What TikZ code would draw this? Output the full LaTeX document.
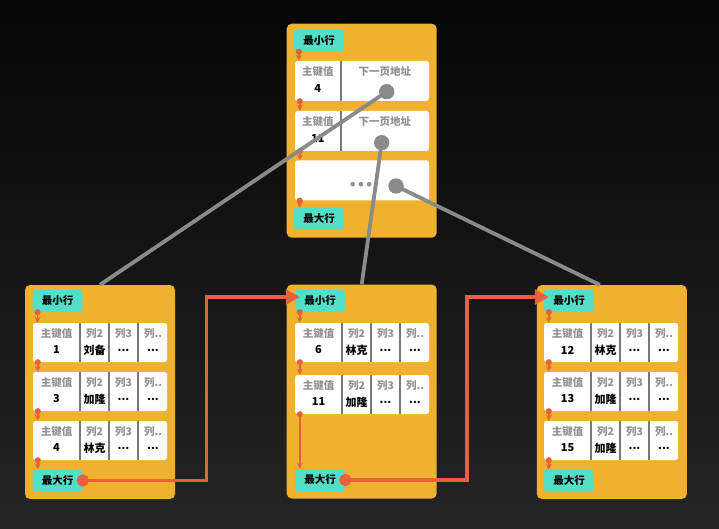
\documentclass[tikz,border=0pt]{standalone}
\usepackage{fontspec}
\setmainfont{Noto Sans CJK SC}
\newfontfamily\dotfont{DejaVu Sans}
\usetikzlibrary{arrows.meta,calc}
\definecolor{bgtop}{RGB}{6,6,6}
\definecolor{bgbot}{RGB}{36,36,36}
\definecolor{pageorange}{RGB}{240,178,46}
\definecolor{badgecol}{RGB}{82,223,198}
\definecolor{linkred}{RGB}{232,96,60}
\definecolor{linkgrey}{RGB}{138,138,138}
\definecolor{labgrey}{RGB}{145,145,145}
\definecolor{sepgrey}{RGB}{120,120,120}
\tikzset{
  page/.style={fill=pageorange, rounded corners=5pt, minimum width=150pt, minimum height=214pt, inner sep=0},
  badge/.style={fill=badgecol, rounded corners=3pt, minimum width=50pt, minimum height=22pt, inner sep=0, font=\bfseries\fontsize{10.5}{12}\selectfont},
  rowbox/.style={fill=white, rounded corners=2.5pt, minimum width=134pt, minimum height=39pt, inner sep=0},
  lab/.style={text=labgrey, inner sep=0, font=\bfseries\fontsize{10.5}{12}\selectfont},
  val/.style={inner sep=0, font=\bfseries\fontsize{11}{12}\selectfont},
  sep/.style={sepgrey, line width=1.5pt},
  rowlink/.style={linkred, line width=1.4pt, {Circle[length=6pt]}-{Stealth[length=6pt,width=6pt]}, shorten <=-3pt},
  pagelink/.style={linkred, line width=3.4pt, {Circle[length=12pt]}-{Triangle[length=14pt,width=15pt]}, shorten <=-6pt, shorten >=-5pt},
  treelink/.style={linkgrey, line width=3.8pt},
  ptr/.style={circle, fill=linkgrey, minimum size=15pt, inner sep=0}
}
\begin{document}
\begin{tikzpicture}[x=1pt,y=-1pt]
\shade [top color=bgtop, bottom color=bgbot] (0,0) rectangle (719,529);
\useasboundingbox (0,0) rectangle (719,529);
% pages
\node[page] (ptop) at (361.7,130.7) {};
\node[page] (pleft) at (100,392) {};
\node[page] (pmid) at (361.7,391.5) {};
\node[page] (pright) at (611.8,392) {};
% index page rows
\node[rowbox, minimum height=40pt] (t1) at (362,81) {};
\node[rowbox, minimum height=40pt] (t2) at (362,131) {};
\node[rowbox, minimum height=40pt] (t3) at (362,180.5) {};
\foreach \n/\k in {t1/4, t2/11} {
  \draw[sep] ($(\n.north west)+(46,0)$) -- ($(\n.south west)+(46,0)$);
  \node[lab] at ($(\n.north west)+(23,11)$) {主键值};
  \node[val] at ($(\n.north west)+(23,28)$) {\k};
  \node[lab] at ($(\n.north west)+(90,11)$) {下一页地址};
}
\node[text=labgrey, inner sep=0, font=\dotfont\bfseries\fontsize{13}{14}\selectfont] at (361,186) {•••};
% leaf rows
\foreach \n/\x/\y/\k/\c in {l1/33/323/1/刘备, l2/33/372/3/加隆, l3/33/421/4/林克,
    m1/295/323/6/林克, m2/295/375/11/加隆,
    r1/544/323/12/林克, r2/544/372/13/加隆, r3/544/421/15/加隆} {
  \node[rowbox] (\n) at ({\x+67},{\y+19.5}) {};
  \foreach \s in {47,76,105}
    \draw[sep] ({\x+\s},\y) -- ({\x+\s},{\y+39});
  \node[lab] at ({\x+23.5},{\y+10.5}) {主键值};
  \node[val] at ({\x+23.5},{\y+27}) {\k};
  \node[lab] at ({\x+61.5},{\y+10.5}) {列2};
  \node[val] at ({\x+61.5},{\y+27}) {\c};
  \node[lab] at ({\x+90.5},{\y+10.5}) {列3};
  \node[val] at ({\x+90.5},{\y+27}) {...};
  \node[lab] at ({\x+120},{\y+10.5}) {列..};
  \node[val] at ({\x+120},{\y+27}) {...};
}
% badges
\node[badge] (tmin) at (319,40.5) {最小行};
\node[badge] (tmax) at (319,219) {最大行};
\node[badge] (lmin) at (57.7,301) {最小行};
\node[badge] (lmax) at (57.7,480.5) {最大行};
\node[badge] (mmin) at (320,301) {最小行};
\node[badge] (mmax) at (320,480) {最大行};
\node[badge] (rmin) at (569,301) {最小行};
\node[badge] (rmax) at (569,481) {最大行};
% row to row
\foreach \a/\b in {tmin/t1, t1/t2, t2/t3, t3/tmax, lmin/l1, l1/l2, l2/l3, l3/lmax,
    mmin/m1, m1/m2, m2/mmax, rmin/r1, r1/r2, r2/r3, r3/rmax}
  \draw[rowlink] ($(\a.south west)+(5,0)$) -- ($(\a.south west |- \b.north)+(5,0)$);
% index pointers
\node[ptr] (d1) at (386.7,91.7) {};
\node[ptr] (d2) at (381.7,142.7) {};
\node[ptr] (d3) at (396,186) {};
\draw[treelink] (d1.center) -- (pleft.north);
\draw[treelink] (d2.center) -- (pmid.north);
\draw[treelink] (d3.center) -- ([xshift=-12pt]pright.north);
\node[ptr] at (d1) {};
\node[ptr] at (d2) {};
\node[ptr] at (d3) {};
% page to page
\coordinate (lm) at (206.7,0);
\coordinate (mr) at (467,0);
\draw[pagelink] (lmax.east) -- (lmax.east -| lm) |- ([yshift=4pt]mmin.west);
\draw[pagelink] (mmax.east) -- (mmax.east -| mr) |- ([yshift=4pt]rmin.west);
\end{tikzpicture}
\end{document}
